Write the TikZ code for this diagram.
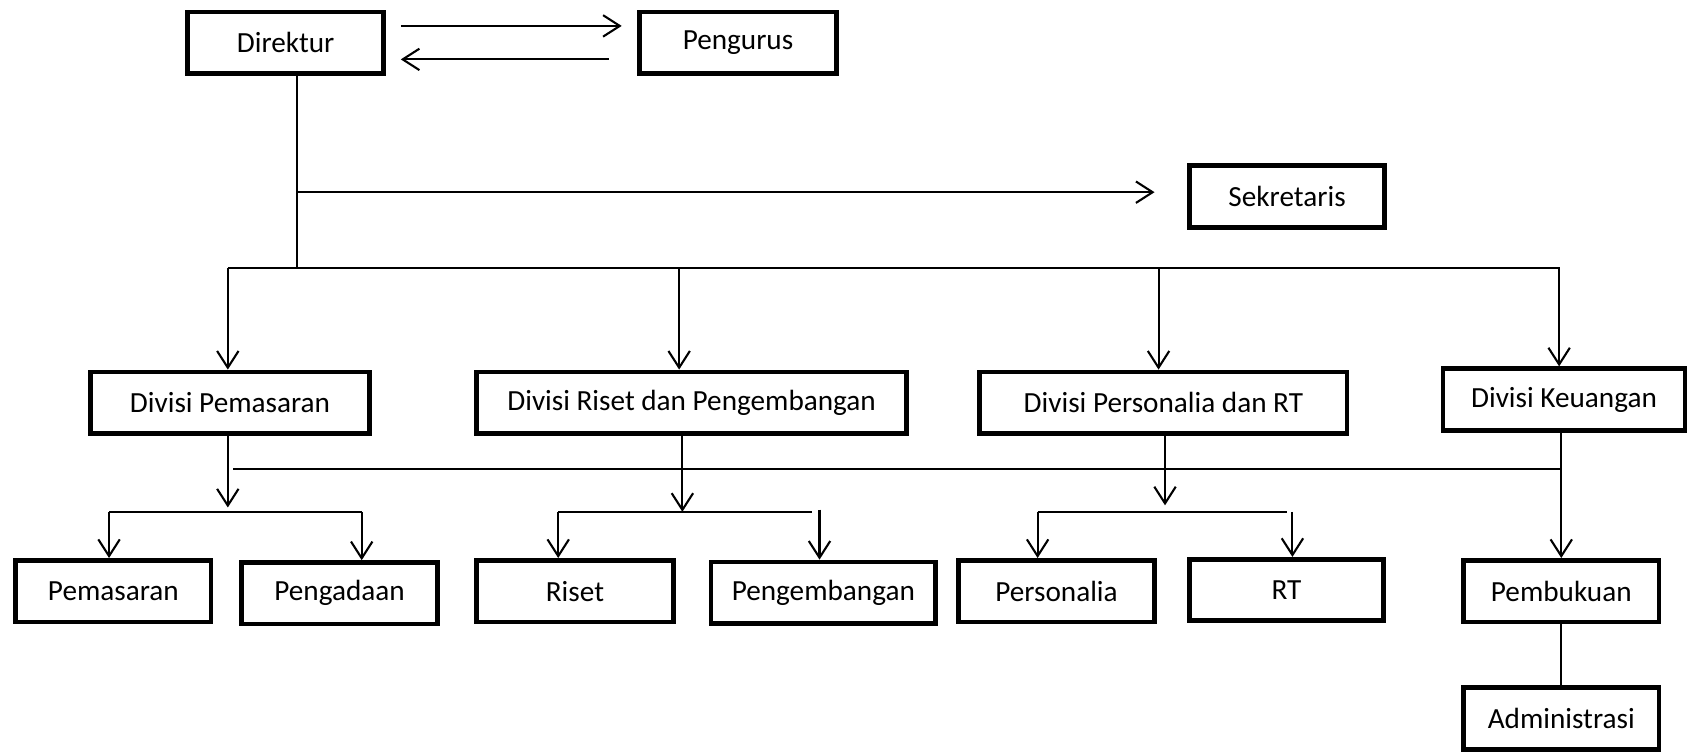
\documentclass[tikz,border=0pt]{standalone}
\usepackage{fontspec}
\setmainfont{Carlito}
\usetikzlibrary{arrows.meta,calc}

\begin{document}
\begin{tikzpicture}[scale=2,
    box/.style={draw,line width=2.5pt,minimum height=1.14cm,inner sep=0pt,
        font=\fontsize{15.4}{18}\selectfont},
    conn/.style={line width=1.1pt},
    arr/.style={conn,-{Straight Barb[length=8.8pt,width=11.3pt]}}]
    \useasboundingbox (0,0) rectangle (15.68,-6.98);
    % top
    \node[box,minimum width=3.64cm] (dir) at (2.645,-0.395) {Direktur};
    \node[box,minimum width=3.64cm] (peng) at (6.835,-0.395) {Pengurus};
    \node[box,minimum width=3.62cm] (sek) at (11.92,-1.82) {Sekretaris};
    % divisi
    \node[box,minimum width=5.18cm] (dpm) at (2.13,-3.73) {Divisi Pemasaran};
    \node[box,minimum width=7.96cm] (drp) at (6.405,-3.73) {Divisi Riset dan Pengembangan};
    \node[box,minimum width=6.80cm] (dprt) at (10.775,-3.73) {Divisi Personalia dan RT};
    \node[box,minimum width=4.48cm] (dk) at (14.485,-3.70) {Divisi Keuangan};
    % bagian
    \node[box,minimum width=3.62cm] (pem) at (1.05,-5.475) {Pemasaran};
    \node[box,minimum width=3.64cm] (pgd) at (3.145,-5.495) {Pengadaan};
    \node[box,minimum width=3.64cm] (ris) at (5.325,-5.475) {Riset};
    \node[box,minimum width=4.16cm] (pgb) at (7.625,-5.49) {Pengembangan};
    \node[box,minimum width=3.64cm] (pers) at (9.785,-5.475) {Personalia};
    \node[box,minimum width=3.60cm] (rt) at (11.915,-5.465) {RT};
    \node[box,minimum width=3.62cm] (pbk) at (14.46,-5.475) {Pembukuan};
    \node[box,minimum width=3.62cm] (adm) at (14.46,-6.655) {Administrasi};

    \draw[arr] ($(dir.east)+(0.135,0.155)$) -- ($(peng.west)+(-0.145,0.155)$);
    \draw[arr] ($(peng.west)+(-0.265,-0.155)$) -- ($(dir.east)+(0.135,-0.155)$);

    \coordinate (trunk) at (2.75,-2.48);
    \coordinate (sekjoin) at (2.75,-1.78);
    \draw[conn] (dir.south -| trunk) -- (trunk);
    \draw[arr] (sekjoin) -- ($(sek.west |- sekjoin)+(-0.3,0)$);

    \coordinate (busl) at (2.11,-2.48);
    \coordinate (busr) at (14.45,-2.48);
    \draw[conn] (busl) -- (busr);
    \foreach \x/\n in {2.11/dpm, 6.29/drp, 10.73/dprt, 14.44/dk}
    {
    \coordinate (b\n) at (\x,-2.48);
    \draw[arr] (b\n) -- (b\n |- \n.north);
    }

    \coordinate (midl) at (2.16,-4.34);
    \coordinate (midr) at (14.47,-4.34);
    \draw[conn] (midl) -- (midr);

    % pemasaran
    \coordinate (pmt) at (2.11,-4.70);
    \coordinate (pml) at (1.01,-4.74);
    \coordinate (pmr) at (3.35,-4.74);
    \draw[arr] (dpm.south -| pmt) -- (pmt);
    \draw[conn] (pml) -- (pmr);
    \draw[arr] (pml) -- (pml |- pem.north);
    \draw[arr] (pmr) -- (pmr |- pgd.north);

    % riset
    \coordinate (rpt) at (6.32,-4.74);
    \coordinate (rpl) at (5.17,-4.74);
    \coordinate (rpr) at (7.52,-4.74);
    \coordinate (rpa) at (7.59,-4.72);
    \draw[arr] (drp.south -| rpt) -- (rpt);
    \draw[conn] (rpl) -- (rpr);
    \draw[arr] (rpl) -- (rpl |- ris.north);
    \draw[arr] (rpa) -- (rpa |- pgb.north);

    % personalia
    \coordinate (prt) at (10.79,-4.68);
    \coordinate (prl) at (9.61,-4.74);
    \coordinate (prr) at (11.92,-4.74);
    \coordinate (pra) at (11.97,-4.74);
    \draw[arr] (dprt.south -| prt) -- (prt);
    \draw[conn] (prl) -- (prr);
    \draw[arr] (prl) -- (prl |- pers.north);
    \draw[arr] (pra) -- (pra |- rt.north);

    % keuangan
    \draw[arr] (dk.south -| pbk.north) -- (pbk.north);
    \draw[conn] (pbk.south) -- (adm.north);
\end{tikzpicture}
\end{document}
